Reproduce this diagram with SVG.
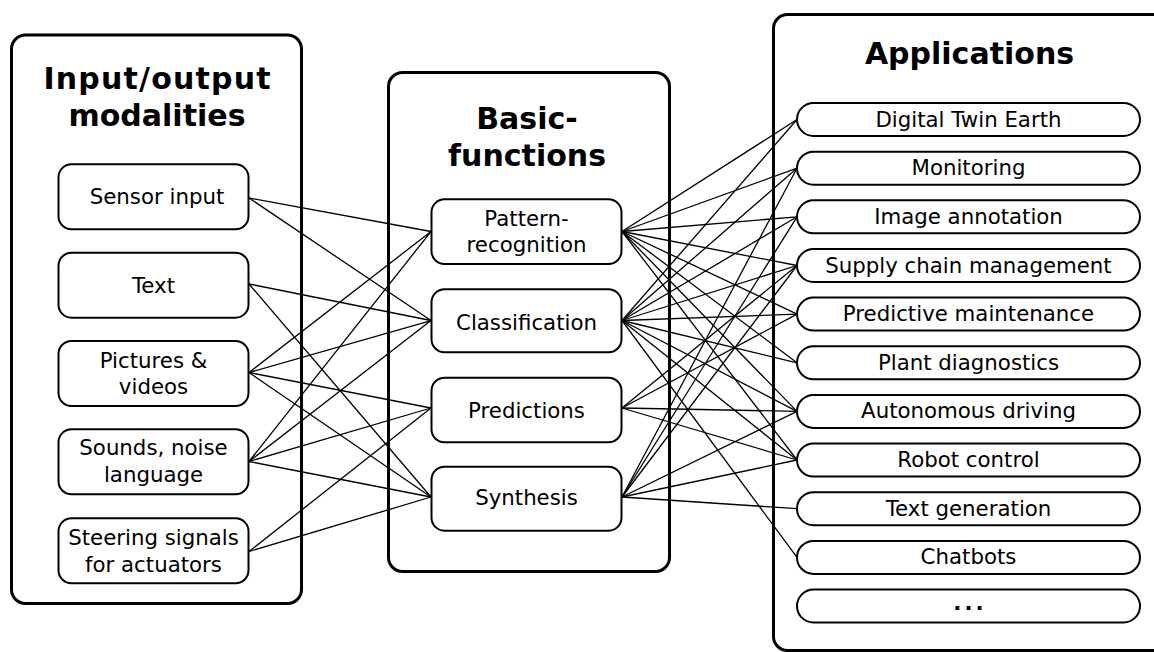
<svg xmlns="http://www.w3.org/2000/svg" width="1154" height="652" viewBox="0 0 1154 652">
<style>
.panel{fill:#fff;stroke:#000;stroke-width:3}
.box{fill:#fff;stroke:#000;stroke-width:2}
.pill{fill:#fff;stroke:#000;stroke-width:2}
.t{font-family:"DejaVu Sans",Verdana,sans-serif;font-size:21.3px;fill:#000;text-anchor:middle}
.h{font-family:"DejaVu Sans",Verdana,sans-serif;font-size:30px;font-weight:bold;fill:#000;text-anchor:middle}
#connectors line{stroke:#000;stroke-width:1.3}
</style>
<rect width="1154" height="652" fill="#fff"/>
<g id="panel-io"><rect class="panel" x="11.5" y="35" width="290" height="568.5" rx="14"/>
<text class="h" x="157" y="88.5" textLength="227" lengthAdjust="spacing">Input/output</text>
<text class="h" x="157" y="126">modalities</text></g>
<g id="panel-basic"><rect class="panel" x="388.5" y="72.5" width="281" height="499" rx="14"/>
<text class="h" x="527" y="128.5">Basic-</text>
<text class="h" x="527" y="166">functions</text></g>
<g id="panel-apps"><rect class="panel" x="773.5" y="14.5" width="420" height="636" rx="14"/>
<text class="h" x="969.5" y="63.5">Applications</text></g>
<g id="connectors">
<line x1="249" y1="198" x2="431" y2="231.5"/>
<line x1="249" y1="198" x2="431" y2="320.5"/>
<line x1="249" y1="284" x2="431" y2="320.5"/>
<line x1="249" y1="284" x2="431" y2="497"/>
<line x1="249" y1="372.5" x2="431" y2="231.5"/>
<line x1="249" y1="372.5" x2="431" y2="320.5"/>
<line x1="249" y1="372.5" x2="431" y2="408"/>
<line x1="249" y1="372.5" x2="431" y2="497"/>
<line x1="249" y1="461.5" x2="431" y2="231.5"/>
<line x1="249" y1="461.5" x2="431" y2="320.5"/>
<line x1="249" y1="461.5" x2="431" y2="408"/>
<line x1="249" y1="461.5" x2="431" y2="497"/>
<line x1="249" y1="551.5" x2="431" y2="408"/>
<line x1="249" y1="551.5" x2="431" y2="497"/>
<line x1="622" y1="231.5" x2="797" y2="119.5"/>
<line x1="622" y1="231.5" x2="797" y2="168.2"/>
<line x1="622" y1="231.5" x2="797" y2="216.8"/>
<line x1="622" y1="231.5" x2="797" y2="265.5"/>
<line x1="622" y1="231.5" x2="797" y2="314.1"/>
<line x1="622" y1="231.5" x2="797" y2="362.8"/>
<line x1="622" y1="231.5" x2="797" y2="411.4"/>
<line x1="622" y1="231.5" x2="797" y2="460"/>
<line x1="622" y1="320.5" x2="797" y2="119.5"/>
<line x1="622" y1="320.5" x2="797" y2="168.2"/>
<line x1="622" y1="320.5" x2="797" y2="216.8"/>
<line x1="622" y1="320.5" x2="797" y2="265.5"/>
<line x1="622" y1="320.5" x2="797" y2="314.1"/>
<line x1="622" y1="320.5" x2="797" y2="362.8"/>
<line x1="622" y1="320.5" x2="797" y2="411.4"/>
<line x1="622" y1="320.5" x2="797" y2="460"/>
<line x1="622" y1="320.5" x2="797" y2="557.4"/>
<line x1="622" y1="408" x2="797" y2="265.5"/>
<line x1="622" y1="408" x2="797" y2="314.1"/>
<line x1="622" y1="408" x2="797" y2="411.4"/>
<line x1="622" y1="408" x2="797" y2="460"/>
<line x1="622" y1="497" x2="797" y2="168.2"/>
<line x1="622" y1="497" x2="797" y2="216.8"/>
<line x1="622" y1="497" x2="797" y2="265.5"/>
<line x1="622" y1="497" x2="797" y2="411.4"/>
<line x1="622" y1="497" x2="797" y2="460"/>
<line x1="622" y1="497" x2="797" y2="508.7"/>
</g>
<g id="sensor"><rect class="box" x="58.5" y="164.3" width="190" height="65" rx="13"/><text class="t" x="157" y="204">Sensor input</text></g>
<g id="text"><rect class="box" x="58.5" y="252.7" width="190" height="65" rx="13"/><text class="t" x="153.5" y="293">Text</text></g>
<g id="pictures"><rect class="box" x="58.5" y="341" width="190" height="65" rx="13"/><text class="t" x="153.5" y="367.5">Pictures &amp;</text><text class="t" x="153.5" y="394">videos</text></g>
<g id="sounds"><rect class="box" x="58.5" y="429.3" width="190" height="65" rx="13"/><text class="t" x="153.5" y="455">Sounds, noise</text><text class="t" x="153.5" y="481.5">language</text></g>
<g id="steering"><rect class="box" x="58.5" y="518.3" width="190" height="65" rx="13"/><text class="t" x="153.5" y="545">Steering signals</text><text class="t" x="153.5" y="571.5">for actuators</text></g>
<g id="pattern"><rect class="box" x="431.5" y="199.3" width="190" height="64.7" rx="13"/><text class="t" x="526.5" y="225.5">Pattern-</text><text class="t" x="526.5" y="251.5">recognition</text></g>
<g id="classification"><rect class="box" x="431.5" y="289.3" width="190" height="63" rx="13"/><text class="t" x="526.5" y="329.5">Classification</text></g>
<g id="predictions"><rect class="box" x="431.5" y="377.7" width="190" height="64.6" rx="13"/><text class="t" x="526.5" y="417.5">Predictions</text></g>
<g id="synthesis"><rect class="box" x="431.5" y="466.7" width="190" height="64" rx="13"/><text class="t" x="526.5" y="504.5">Synthesis</text></g>
<g id="app-dte"><rect class="pill" x="797" y="103" width="343" height="33" rx="16.5"/><text class="t" x="968.5" y="126.5">Digital Twin Earth</text></g>
<g id="app-monitoring"><rect class="pill" x="797" y="151.7" width="343" height="33" rx="16.5"/><text class="t" x="968.5" y="175.2">Monitoring</text></g>
<g id="app-image"><rect class="pill" x="797" y="200.3" width="343" height="33" rx="16.5"/><text class="t" x="968.5" y="223.8">Image annotation</text></g>
<g id="app-supply"><rect class="pill" x="797" y="249" width="343" height="33" rx="16.5"/><text class="t" x="968.5" y="272.5">Supply chain management</text></g>
<g id="app-predictive"><rect class="pill" x="797" y="297.6" width="343" height="33" rx="16.5"/><text class="t" x="968.5" y="321.1">Predictive maintenance</text></g>
<g id="app-plant"><rect class="pill" x="797" y="346.3" width="343" height="33" rx="16.5"/><text class="t" x="968.5" y="369.8">Plant diagnostics</text></g>
<g id="app-auto"><rect class="pill" x="797" y="394.9" width="343" height="33" rx="16.5"/><text class="t" x="968.5" y="418.4">Autonomous driving</text></g>
<g id="app-robot"><rect class="pill" x="797" y="443.6" width="343" height="33" rx="16.5"/><text class="t" x="968.5" y="467.1">Robot control</text></g>
<g id="app-textgen"><rect class="pill" x="797" y="492.2" width="343" height="33" rx="16.5"/><text class="t" x="968.5" y="515.7">Text generation</text></g>
<g id="app-chatbots"><rect class="pill" x="797" y="540.9" width="343" height="33" rx="16.5"/><text class="t" x="968.5" y="564.4">Chatbots</text></g>
<g id="app-more"><rect class="pill" x="797" y="589.5" width="343" height="33" rx="16.5"/><text class="t" x="970" y="610" style="font-weight:bold;letter-spacing:3px">...</text></g>
</svg>
